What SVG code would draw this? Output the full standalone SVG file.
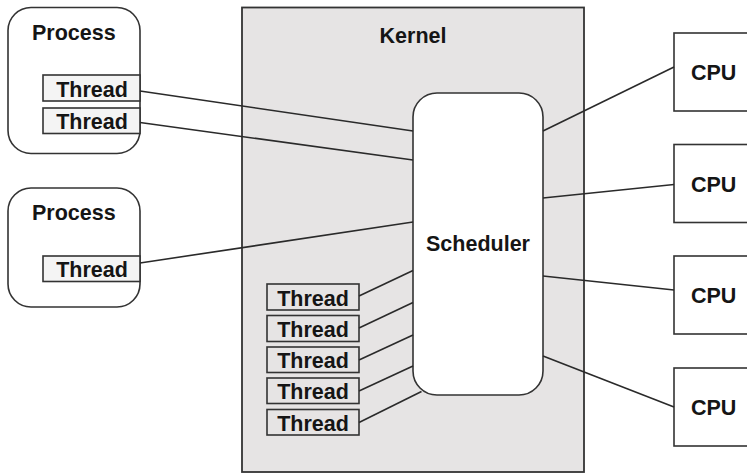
<svg xmlns="http://www.w3.org/2000/svg" width="747" height="474" viewBox="0 0 747 474">
<style>
text{font-family:"Liberation Sans",Arial,sans-serif;font-weight:bold;font-size:21.5px;fill:#151515}
.box{fill:#fff;stroke:#333;stroke-width:1.6}
.thr{fill:#f4f4f4;stroke:#333;stroke-width:1.6}
.kthr{fill:#e6e4e4;stroke:#333;stroke-width:1.6}
.c{text-anchor:middle}
#connectors line{stroke:#2a2a2a;stroke-width:1.6;fill:none}
</style>
<rect width="747" height="474" fill="#fff"/>
<g id="kernel">
<rect x="242" y="7.5" width="342" height="464.5" fill="#e6e4e4" stroke="#333" stroke-width="1.8"/>
<text x="413" y="43" class="c">Kernel</text>
</g>
<g id="process1">
<rect class="box" x="8" y="7.5" width="132" height="146" rx="23"/>
<text x="32" y="40">Process</text>
</g>
<g id="p1-thread1"><rect class="thr" x="43" y="75" width="97" height="26"/><text x="92" y="96.5" class="c">Thread</text></g>
<g id="p1-thread2"><rect class="thr" x="43" y="108" width="97" height="25.5"/><text x="92" y="129" class="c">Thread</text></g>
<g id="process2">
<rect class="box" x="8" y="188" width="132" height="119" rx="23"/>
<text x="32" y="220">Process</text>
</g>
<g id="p2-thread1"><rect class="thr" x="43" y="256" width="97" height="25.5"/><text x="92" y="277" class="c">Thread</text></g>
<g id="scheduler">
<rect class="box" x="413" y="93" width="130" height="302" rx="24"/>
<text x="478" y="251" class="c">Scheduler</text>
</g>
<g id="k-thread1"><rect class="kthr" x="267" y="284" width="92" height="26"/><text x="313" y="305.5" class="c">Thread</text></g>
<g id="k-thread2"><rect class="kthr" x="267" y="315.5" width="92" height="26"/><text x="313" y="337" class="c">Thread</text></g>
<g id="k-thread3"><rect class="kthr" x="267" y="347" width="92" height="25.5"/><text x="313" y="368" class="c">Thread</text></g>
<g id="k-thread4"><rect class="kthr" x="267" y="378" width="92" height="25.5"/><text x="313" y="399" class="c">Thread</text></g>
<g id="k-thread5"><rect class="kthr" x="267" y="409.5" width="92" height="25.5"/><text x="313" y="430.5" class="c">Thread</text></g>
<g id="cpu1"><rect class="box" x="674" y="33" width="100" height="78"/><text x="691" y="80">CPU</text></g>
<g id="cpu2"><rect class="box" x="674" y="144.5" width="100" height="78"/><text x="691" y="191.5">CPU</text></g>
<g id="cpu3"><rect class="box" x="674" y="256" width="100" height="78"/><text x="691" y="303">CPU</text></g>
<g id="cpu4"><rect class="box" x="674" y="368" width="100" height="78"/><text x="691" y="415">CPU</text></g>
<g id="connectors">
<line x1="140" y1="91" x2="413" y2="131"/>
<line x1="140" y1="122.5" x2="413" y2="160"/>
<line x1="140" y1="263" x2="413" y2="222"/>
<line x1="359" y1="296" x2="413" y2="270.5"/>
<line x1="359" y1="328" x2="413" y2="302.5"/>
<line x1="359" y1="360" x2="413" y2="335"/>
<line x1="359" y1="391" x2="413" y2="366"/>
<line x1="359" y1="422.5" x2="421.5" y2="391.5"/>
<line x1="543" y1="131" x2="674" y2="67"/>
<line x1="543" y1="198" x2="674" y2="184.5"/>
<line x1="543" y1="276" x2="674" y2="290"/>
<line x1="543" y1="356" x2="674" y2="407"/>
</g>
</svg>
